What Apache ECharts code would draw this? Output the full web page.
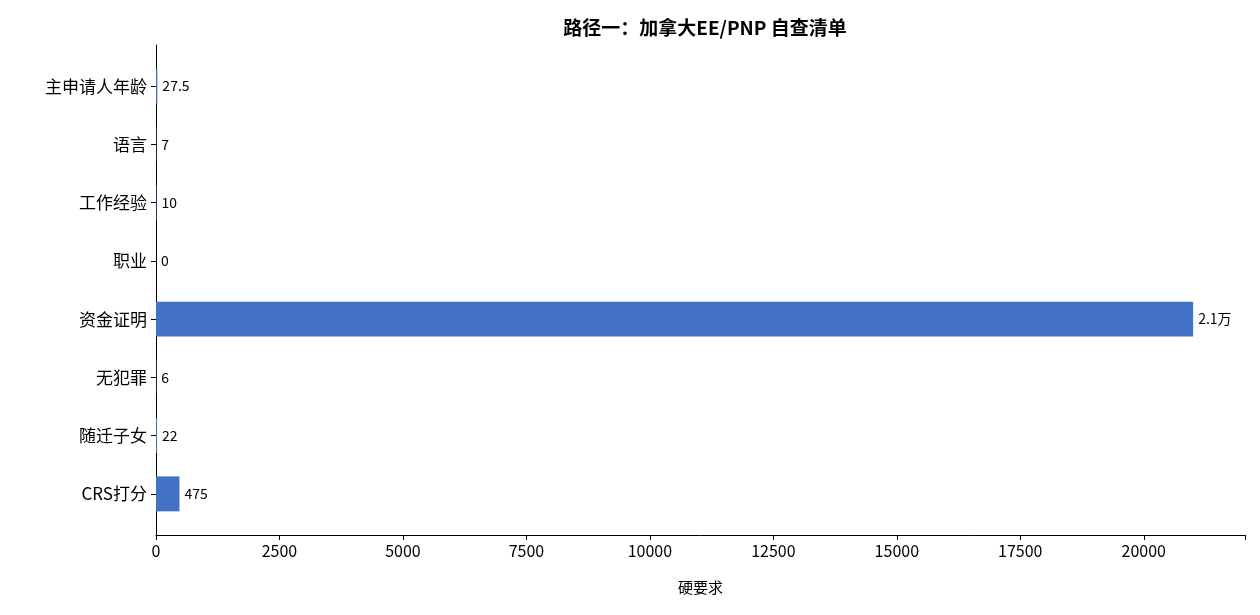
<!DOCTYPE html>
<html><head><meta charset="utf-8">
<script src="https://cdn.jsdelivr.net/npm/echarts@6/dist/echarts.min.js"></script>
<style>html,body{margin:0;padding:0;background:#fff}#c{width:1260px;height:615px}</style>
</head><body><div id="c"></div>
<script>
const categories = ['主申请人年龄','语言','工作经验','职业','资金证明','无犯罪','随迁子女','CRS打分'];
const values = [27.5, 7, 10, 0, 21000, 6, 22, 475];
const xTicks = [0,2500,5000,7500,10000,12500,15000,17500,20000];
const font = '"Noto Sans CJK SC", "Noto Sans", sans-serif';
const chart = echarts.init(document.getElementById('c'));
chart.setOption({
  animation:false,
  textStyle:{fontFamily:font},
  title:{text:'路径一：加拿大EE/PNP 自查清单',left:700,top:13,textAlign:'center',
    textStyle:{fontSize:19,fontWeight:'bold',color:'#000',fontFamily:font}},
  grid:[{left:156,right:15,top:45,bottom:80},{left:156,right:15,top:57,bottom:92}],
  xAxis:[{type:'value',gridIndex:0,min:0,max:22050,interval:2500,
    name:'硬要求',nameLocation:'middle',nameGap:45,
    nameTextStyle:{fontSize:15,color:'#000',fontFamily:font},
    axisLine:{show:true,lineStyle:{color:'#000'}},
    axisTick:{show:true,length:5,lineStyle:{color:'#000'}},
    splitLine:{show:false},
    axisLabel:{fontSize:16,color:'#000',margin:8,fontFamily:font,
      formatter:v=>xTicks.includes(v)?String(v):''}},
    {type:'value',gridIndex:1,min:0,max:22050,show:false,splitLine:{show:false}}],
  yAxis:[{type:'value',gridIndex:0,min:0,max:1,
    axisLine:{show:true,lineStyle:{color:'#000'}},axisTick:{show:false},
    axisLabel:{show:false},splitLine:{show:false}},
    {type:'category',gridIndex:1,data:categories,inverse:true,
    axisLine:{show:false},
    axisTick:{show:true,alignWithLabel:true,length:5,lineStyle:{color:'#000'}},
    axisLabel:{fontSize:17,color:'#000',margin:9,fontFamily:font}}],
  series:[{type:'bar',xAxisIndex:1,yAxisIndex:1,data:values,barCategoryGap:'40%',
    itemStyle:{color:'#4472c4'},
    label:{show:true,position:'right',distance:5,fontSize:14,color:'#000',fontFamily:font,
      formatter:p=>p.value>=10000?(p.value/10000).toFixed(1)+'万':String(p.value)}}]
});
</script></body></html>
